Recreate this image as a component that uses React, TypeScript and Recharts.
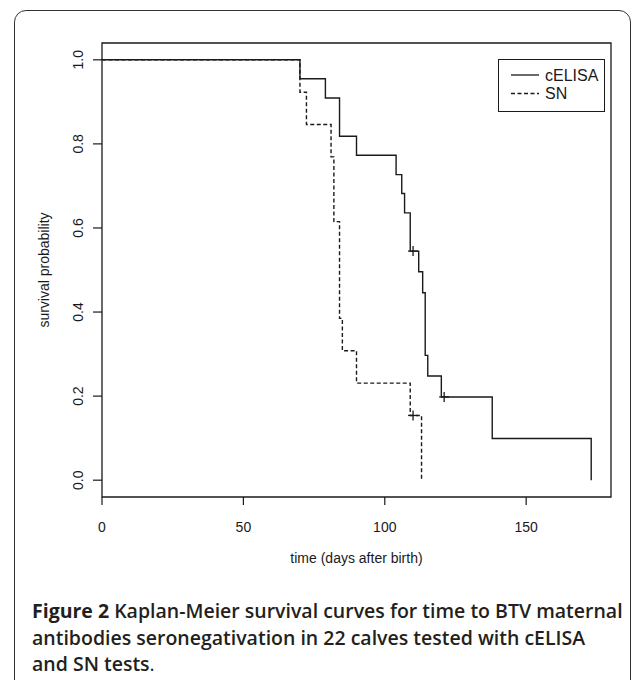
import React from "react"
import {
  ComposedChart,
  Line,
  Scatter,
  XAxis,
  YAxis,
  ReferenceArea,
  Label,
} from "recharts"

// Kaplan-Meier step values
const elisaTimes = [0, 70, 79, 84, 90, 104, 106, 107, 109, 112, 113.4, 114.3, 115.2, 120, 138, 173]
const elisaSurv = [1, 0.955, 0.909, 0.818, 0.773, 0.727, 0.682, 0.636, 0.545, 0.496, 0.446, 0.297, 0.248, 0.198, 0.099, 0]
const elisaCensTimes = [110, 121]
const elisaCensSurv = [0.545, 0.198]

const snTimes = [0, 70, 72.3, 81, 82, 84, 85, 90, 109, 113]
const snSurv = [1, 0.923, 0.846, 0.769, 0.615, 0.385, 0.308, 0.231, 0.154, 0]
const snCensTimes = [110]
const snCensSurv = [0.154]

const xTicks = [0, 50, 100, 150]
const yTicks = [0, 0.2, 0.4, 0.6, 0.8, 1.0]

const toPoints = (ts: number[], ss: number[]) => ts.map((t, i) => ({ t, s: ss[i] }))

const elisaData = toPoints(elisaTimes, elisaSurv)
const snData = toPoints(snTimes, snSurv)
const censData = [
  ...toPoints(elisaCensTimes, elisaCensSurv),
  ...toPoints(snCensTimes, snCensSurv),
]

const INK = "#1a1a1a"
const FONT = "'Liberation Sans', Arial, sans-serif"

// "+" mark for censored observations
const CensorMark = (props: any) => {
  const { cx, cy } = props
  return (
    <g>
      <line x1={cx - 5} x2={cx + 5} y1={cy} y2={cy} stroke={INK} strokeWidth={1.3} />
      <line x1={cx} x2={cx} y1={cy - 5} y2={cy + 5} stroke={INK} strokeWidth={1.3} />
    </g>
  )
}

const YTick = (props: any) => {
  const { x, y, payload } = props
  return (
    <text
      x={x}
      y={y}
      transform={`rotate(-90, ${x}, ${y})`}
      textAnchor="middle"
      fill={INK}
      fontSize={14}
      fontFamily={FONT}
    >
      {payload.value.toFixed(1)}
    </text>
  )
}

const LegendBox = () => (
  <div
    style={{
      position: "absolute",
      left: 498,
      top: 59,
      width: 107,
      height: 53,
      border: `1px solid ${INK}`,
      boxSizing: "border-box",
      background: "#fff",
    }}
  >
    <svg width={105} height={51} style={{ position: "absolute", left: 0, top: 0 }}>
      <line x1={12} x2={40} y1={15} y2={15} stroke={INK} strokeWidth={1.3} />
      <line x1={12} x2={40} y1={33.5} y2={33.5} stroke={INK} strokeWidth={1.3} strokeDasharray="4 2.5" />
      <text x={46} y={20.5} fontSize={16} fontFamily={FONT} fill={INK}>cELISA</text>
      <text x={46} y={39} fontSize={16} fontFamily={FONT} fill={INK}>SN</text>
    </svg>
  </div>
)

export default function App() {
  return (
    <div style={{ position: "absolute", left: 0, top: 0, width: 633, height: 680, background: "#fff", overflow: "hidden" }}>
      {/* figure frame */}
      <div
        style={{
          position: "absolute",
          left: 14,
          top: 10,
          width: 617,
          height: 720,
          border: "1.5px solid #333",
          borderRadius: 12,
          boxSizing: "border-box",
        }}
      />
      <div style={{ position: "absolute", left: 0, top: 0 }}>
        <ComposedChart
          width={633}
          height={600}
          margin={{ top: 43, right: 22, bottom: 43, left: 42 }}
        >
          <XAxis
            type="number"
            dataKey="t"
            domain={[0, 180]}
            ticks={xTicks}
            axisLine={false}
            tickSize={8}
            tickMargin={17}
            tickLine={{ stroke: INK, strokeWidth: 1.2 }}
            tick={{ fill: INK, fontSize: 14, fontFamily: FONT }}
            height={60}
            allowDataOverflow
          >
            <Label
              content={() => (
                <text x={356.5} y={563} textAnchor="middle" fill={INK} fontSize={14} fontFamily={FONT}>
                  time (days after birth)
                </text>
              )}
            />
          </XAxis>
          <YAxis
            type="number"
            dataKey="s"
            domain={[-0.04, 1.04]}
            ticks={yTicks}
            axisLine={false}
            tickSize={9}
            tickMargin={10}
            tickLine={{ stroke: INK, strokeWidth: 1.2 }}
            tick={<YTick />}
            width={60}
            allowDataOverflow
          >
            <Label
              content={() => (
                <text
                  x={49}
                  y={270}
                  transform="rotate(-90, 49, 270)"
                  textAnchor="middle"
                  fill={INK}
                  fontSize={14}
                  fontFamily={FONT}
                >
                  survival probability
                </text>
              )}
            />
          </YAxis>
          <ReferenceArea
            x1={0}
            x2={180}
            y1={-0.04}
            y2={1.04}
            fill="none"
            fillOpacity={0}
            stroke={INK}
            strokeWidth={1.3}
          />
          <Line
            data={elisaData}
            dataKey="s"
            name="cELISA"
            type="stepAfter"
            stroke={INK}
            strokeWidth={1.4}
            dot={false}
            activeDot={false}
            isAnimationActive={false}
          />
          <Line
            data={snData}
            dataKey="s"
            name="SN"
            type="stepAfter"
            stroke={INK}
            strokeWidth={1.4}
            strokeDasharray="4 2.5"
            dot={false}
            activeDot={false}
            isAnimationActive={false}
          />
          <Scatter
            data={censData}
            dataKey="s"
            shape={<CensorMark />}
            isAnimationActive={false}
            legendType="none"
          />
        </ComposedChart>
      </div>
      <LegendBox />
      <div
        style={{
          position: "absolute",
          left: 32,
          top: 598,
          width: 600,
          fontFamily: "'Open Sans', sans-serif",
          fontSize: 19.5,
          lineHeight: "26.5px",
          color: "#231f20",
          fontWeight: 600,
          whiteSpace: "nowrap",
        }}
      >
        <span style={{ fontWeight: 700 }}>Figure 2</span> Kaplan-Meier survival curves for time to BTV maternal
        <br />
        antibodies seronegativation in 22 calves tested with cELISA
        <br />
        and SN tests<span style={{ fontWeight: 400 }}>.</span>
      </div>
    </div>
  )
}
